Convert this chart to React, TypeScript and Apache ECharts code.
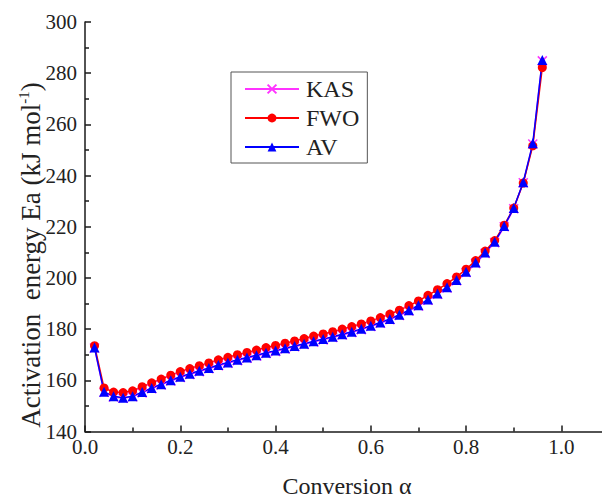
import React, { useEffect, useRef } from "react";
import * as echarts from "echarts";

const alpha = [
  0.02, 0.04, 0.06, 0.08, 0.1, 0.12, 0.14, 0.16, 0.18, 0.2, 0.22, 0.24,
  0.26, 0.28, 0.3, 0.32, 0.34, 0.36, 0.38, 0.4, 0.42, 0.44, 0.46, 0.48,
  0.5, 0.52, 0.54, 0.56, 0.58, 0.6, 0.62, 0.64, 0.66, 0.68, 0.7, 0.72,
  0.74, 0.76, 0.78, 0.8, 0.82, 0.84, 0.86, 0.88, 0.9, 0.92, 0.94, 0.96,
];

const kas = [
  172.6, 155.3, 153.5, 153.0, 153.6, 155.1, 156.7, 158.2, 159.7, 161.1, 162.3, 163.4,
  164.5, 165.7, 166.7, 167.7, 168.6, 169.5, 170.5, 171.3, 172.2, 173.1, 174.0, 175.0,
  175.8, 176.7, 177.7, 178.7, 179.8, 181.0, 182.3, 183.7, 185.3, 187.1, 189.0, 191.3,
  193.6, 196.1, 198.9, 202.1, 205.7, 209.6, 213.8, 220.0, 227.0, 237.2, 252.3, 284.8,
];

const fwo = [
  173.5, 157.0, 155.4, 155.2, 155.9, 157.5, 159.0, 160.5, 162.0, 163.4, 164.6, 165.7,
  166.8, 168.0, 169.0, 170.0, 170.9, 171.8, 172.8, 173.6, 174.5, 175.4, 176.3, 177.3,
  178.1, 179.0, 180.0, 181.0, 182.0, 183.2, 184.5, 185.9, 187.4, 189.2, 191.0, 193.2,
  195.4, 197.8, 200.4, 203.4, 206.8, 210.5, 214.6, 220.6, 227.3, 237.1, 251.6, 282.2,
];

const av = [
  172.8, 155.5, 153.8, 153.2, 153.8, 155.4, 157.0, 158.5, 160.0, 161.4, 162.6, 163.7,
  164.8, 166.0, 167.0, 168.0, 168.9, 169.8, 170.8, 171.6, 172.5, 173.4, 174.3, 175.3,
  176.1, 177.0, 178.0, 179.0, 180.1, 181.3, 182.6, 184.0, 185.6, 187.4, 189.3, 191.6,
  193.9, 196.4, 199.2, 202.4, 206.0, 209.9, 214.1, 220.3, 227.3, 237.4, 252.6, 285.2,
];

const seriesNames = ["KAS", "FWO", "AV"];
const seriesColors = ["#ff33ff", "#ff0000", "#0000ff"];

const FONT = "'Liberation Serif', 'Times New Roman', serif";
const AXIS_COLOR = "#1a1a1a";

function pairs(vals: number[]) {
  return alpha.map((a, i) => [a, vals[i]]);
}

export default function App() {
  const ref = useRef<HTMLDivElement>(null);

  useEffect(() => {
    document.body.style.margin = "0";
    if (!ref.current) return;
    const chart = echarts.init(ref.current, null, { renderer: "svg" });
    const crossPath = "path://M0,0L10,10M10,0L0,10";
    chart.setOption({
      animation: false,
      backgroundColor: "#ffffff",
      grid: { left: 85, right: -7, top: 22, bottom: 68.5, containLabel: false, outerBoundsMode: "none" },
      legend: {
        orient: "vertical",
        left: 231,
        top: 72,
        padding: [5, 8, 4, 13],
        itemGap: 5,
        itemWidth: 54,
        itemHeight: 11,
        borderColor: "#555",
        borderWidth: 1,
        borderRadius: 0,
        data: seriesNames,
        textStyle: { fontFamily: FONT, fontSize: 24, color: "#222", padding: [2, 0, 0, 2] },
      },
      graphic: [
        {
          type: "text",
          x: 31,
          y: 255,
          rotation: Math.PI / 2,
          style: {
            text: "Activation  energy Ea (kJ mol{sup|-1})",
            fontFamily: FONT,
            fontSize: 27,
            fill: "#222",
            align: "center",
            verticalAlign: "middle",
            lineHeight: 30,
            rich: {
              sup: { fontFamily: FONT, fontSize: 15, fill: "#222", verticalAlign: "top", lineHeight: 30 },
            },
          },
        },
      ],
      xAxis: {
        type: "value",
        min: 0,
        max: 1.1,
        interval: 0.2,
        name: "Conversion α",
        nameLocation: "middle",
        nameGap: 42,
        nameTextStyle: { fontFamily: FONT, fontSize: 24, color: "#222", lineHeight: 24 },
        axisLine: { show: true, lineStyle: { color: AXIS_COLOR, width: 1.5 } },
        axisTick: { show: true, inside: true, length: 6, lineStyle: { color: AXIS_COLOR, width: 1.5 } },
        minorTick: { show: true, splitNumber: 2, length: 4, lineStyle: { color: AXIS_COLOR, width: 1.5 } },
        axisLabel: {
          fontFamily: FONT,
          fontSize: 21,
          color: "#222",
          margin: 5,
          showMaxLabel: false,
          formatter: (v: number) => v.toFixed(1),
        },
        splitLine: { show: false },
      },
      yAxis: {
        type: "value",
        min: 140,
        max: 300,
        interval: 20,
        axisLine: { show: true, lineStyle: { color: AXIS_COLOR, width: 1.5 } },
        axisTick: { show: true, inside: true, length: 6, lineStyle: { color: AXIS_COLOR, width: 1.5 } },
        minorTick: { show: true, splitNumber: 2, length: 4, lineStyle: { color: AXIS_COLOR, width: 1.5 } },
        axisLabel: { fontFamily: FONT, fontSize: 21, color: "#222", margin: 8 },
        splitLine: { show: false },
      },
      series: [
        {
          name: seriesNames[0],
          type: "line",
          data: pairs(kas),
          symbol: crossPath,
          symbolSize: 9,
          lineStyle: { color: seriesColors[0], width: 1.5 },
          itemStyle: { color: seriesColors[0], borderColor: seriesColors[0], borderWidth: 1.5 },
        },
        {
          name: seriesNames[1],
          type: "line",
          data: pairs(fwo),
          symbol: "circle",
          symbolSize: 9,
          lineStyle: { color: seriesColors[1], width: 1.5 },
          itemStyle: { color: seriesColors[1] },
        },
        {
          name: seriesNames[2],
          type: "line",
          data: pairs(av),
          symbol: "triangle",
          symbolSize: 10,
          lineStyle: { color: seriesColors[2], width: 1.5 },
          itemStyle: { color: seriesColors[2] },
        },
      ],
    });
    return () => chart.dispose();
  }, []);

  return <div ref={ref} style={{ width: 602, height: 500 }} />;
}
